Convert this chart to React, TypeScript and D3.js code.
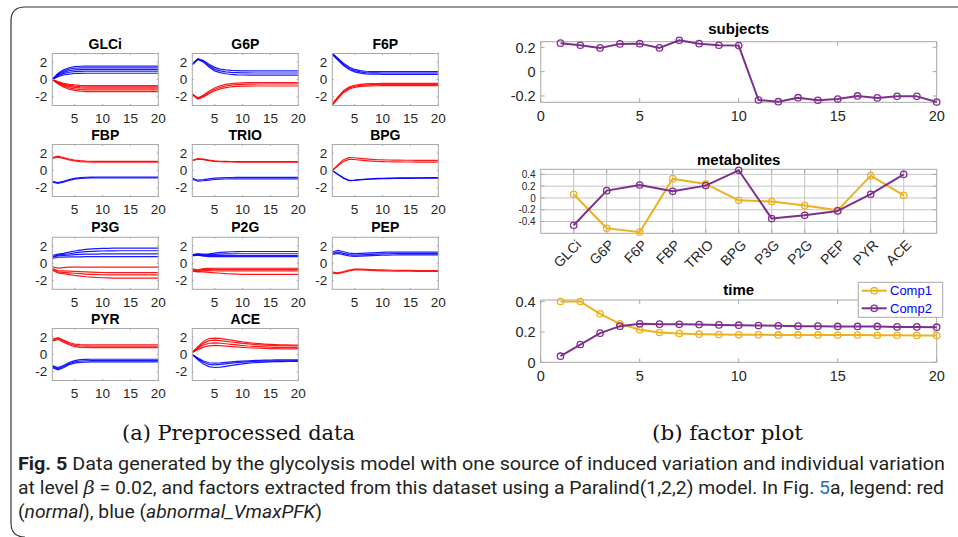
import React from 'react';
import * as d3 from 'd3';

// ---------- data ----------
const timePoints = [1,2,3,4,5,6,7,8,9,10,11,12,13,14,15,16,17,18,19,20];
const smallXTicks = [5,10,15,20];
const smallYTicks = [-2,0,2];

const glciBlue = [
  [0,.70,1.12,1.36,1.49,1.53,1.55,1.55,1.55,1.55,1.55,1.55,1.55,1.55,1.55,1.55,1.55,1.55,1.55,1.55],
  [0,.61,.97,1.19,1.30,1.34,1.35,1.35,1.35,1.35,1.35,1.35,1.35,1.35,1.35,1.35,1.35,1.35,1.35,1.35],
  [0,.52,.83,1.01,1.10,1.14,1.15,1.15,1.15,1.15,1.15,1.15,1.15,1.15,1.15,1.15,1.15,1.15,1.15,1.15],
  [0,.43,.68,.84,.91,.94,.95,.95,.95,.95,.95,.95,.95,.95,.95,.95,.95,.95,.95,.95],
  [0,.32,.52,.63,.69,.71,.72,.72,.72,.72,.72,.72,.72,.72,.72,.72,.72,.72,.72,.72],
];
const glciRed = [
  [0,-.25,-.43,-.56,-.63,-.67,-.69,-.70,-.70,-.70,-.70,-.70,-.70,-.70,-.70,-.70,-.70,-.70,-.70,-.70],
  [0,-.30,-.53,-.68,-.77,-.82,-.84,-.85,-.85,-.85,-.85,-.85,-.85,-.85,-.85,-.85,-.85,-.85,-.85,-.85],
  [0,-.35,-.62,-.80,-.90,-.96,-.99,-1.0,-1.0,-1.0,-1.0,-1.0,-1.0,-1.0,-1.0,-1.0,-1.0,-1.0,-1.0,-1.0],
  [0,-.42,-.74,-.96,-1.08,-1.15,-1.19,-1.2,-1.2,-1.2,-1.2,-1.2,-1.2,-1.2,-1.2,-1.2,-1.2,-1.2,-1.2,-1.2],
  [0,-.49,-.87,-1.12,-1.26,-1.34,-1.39,-1.4,-1.4,-1.4,-1.4,-1.4,-1.4,-1.4,-1.4,-1.4,-1.4,-1.4,-1.4,-1.4],
];
const g6pBlue = [
  [1.8,2.4,2.2,1.75,1.4,1.2,1.1,1.05,1.02,1.0,1.0,1.0,1.0,1.0,1.0,1.0,1.0,1.0,1.0,1.0],
  [1.75,2.35,2.1,1.6,1.2,1.0,.88,.82,.79,.77,.76,.75,.75,.75,.75,.75,.75,.75,.75,.75],
  [1.7,2.3,2.0,1.45,1.0,.8,.66,.58,.54,.52,.51,.5,.5,.5,.5,.5,.5,.5,.5,.5],
];
const g6pRed = [
  [-1.65,-2.15,-1.8,-1.35,-.98,-.72,-.57,-.47,-.42,-.38,-.36,-.35,-.35,-.35,-.35,-.35,-.35,-.35,-.35,-.35],
  [-1.7,-2.2,-1.9,-1.5,-1.15,-.9,-.75,-.65,-.6,-.56,-.54,-.53,-.52,-.52,-.52,-.52,-.52,-.52,-.52,-.52],
  [-1.75,-2.25,-2.0,-1.65,-1.3,-1.08,-.93,-.84,-.79,-.77,-.76,-.75,-.75,-.75,-.75,-.75,-.75,-.75,-.75,-.75],
];
const f6pBlue = [
  [3.0,2.45,1.88,1.44,1.16,1.02,.95,.92,.91,.9,.9,.9,.9,.9,.9,.9,.9,.9,.9,.9],
  [2.95,2.35,1.75,1.3,1.02,.88,.8,.77,.76,.75,.75,.75,.75,.75,.75,.75,.75,.75,.75,.75],
  [2.9,2.25,1.62,1.16,.88,.74,.66,.62,.61,.6,.6,.6,.6,.6,.6,.6,.6,.6,.6,.6],
];
const f6pRed = [
  [-2.85,-2.0,-1.28,-.88,-.66,-.56,-.5,-.47,-.46,-.45,-.45,-.45,-.45,-.45,-.45,-.45,-.45,-.45,-.45,-.45],
  [-2.9,-2.1,-1.4,-1.0,-.78,-.68,-.63,-.6,-.59,-.58,-.58,-.58,-.58,-.58,-.58,-.58,-.58,-.58,-.58,-.58],
  [-2.95,-2.2,-1.52,-1.12,-.9,-.8,-.76,-.73,-.72,-.71,-.71,-.71,-.71,-.71,-.71,-.71,-.71,-.71,-.71,-.71],
];
const fbpRed = [
  [1.5,1.65,1.5,1.33,1.2,1.13,1.09,1.07,1.06,1.05,1.05,1.05,1.05,1.05,1.05,1.05,1.05,1.05,1.05,1.05],
  [1.4,1.55,1.4,1.23,1.1,1.03,.99,.97,.96,.95,.95,.95,.95,.95,.95,.95,.95,.95,.95,.95],
];
const fbpBlue = [
  [-1.25,-1.4,-1.25,-1.05,-.9,-.82,-.78,-.76,-.75,-.75,-.75,-.75,-.75,-.75,-.75,-.75,-.75,-.75,-.75,-.75],
  [-1.35,-1.5,-1.35,-1.15,-1.0,-.92,-.88,-.86,-.85,-.85,-.85,-.85,-.85,-.85,-.85,-.85,-.85,-.85,-.85,-.85],
];
const trioRed = [
  [1.18,1.38,1.31,1.2,1.11,1.07,1.05,1.04,1.03,1.03,1.03,1.03,1.03,1.03,1.03,1.03,1.03,1.03,1.03,1.03],
  [1.12,1.32,1.25,1.14,1.05,1.01,.99,.98,.97,.97,.97,.97,.97,.97,.97,.97,.97,.97,.97,.97],
];
const trioBlue = [
  [-.9,-1.12,-1.05,-.96,-.88,-.84,-.82,-.81,-.8,-.8,-.8,-.8,-.8,-.8,-.8,-.8,-.8,-.8,-.8,-.8],
  [-1.0,-1.24,-1.18,-1.1,-1.04,-1.0,-.98,-.97,-.96,-.96,-.96,-.96,-.96,-.96,-.96,-.96,-.96,-.96,-.96,-.96],
];
const bpgRed = [
  [0,.65,1.25,1.48,1.47,1.4,1.34,1.29,1.25,1.23,1.21,1.2,1.19,1.18,1.18,1.17,1.17,1.17,1.16,1.16],
  [0,.55,1.05,1.28,1.27,1.2,1.14,1.09,1.05,1.03,1.01,1.0,.99,.98,.98,.97,.97,.97,.96,.96],
];
const bpgBlue = [
  [0,-.45,-.9,-1.18,-1.15,-1.09,-1.04,-1.0,-.97,-.95,-.93,-.92,-.91,-.9,-.9,-.89,-.89,-.88,-.88,-.88],
  [0,-.42,-.85,-1.13,-1.1,-1.04,-.99,-.95,-.92,-.9,-.88,-.87,-.86,-.85,-.85,-.84,-.84,-.83,-.83,-.83],
];
const p3gBlue = [
  [.9,1.05,1.15,1.28,1.42,1.52,1.6,1.66,1.7,1.72,1.73,1.74,1.74,1.74,1.74,1.74,1.74,1.74,1.74,1.74],
  [.75,.95,1.02,1.1,1.2,1.28,1.34,1.38,1.4,1.42,1.43,1.44,1.45,1.45,1.45,1.45,1.45,1.45,1.45,1.45],
  [.7,.85,.9,.95,1.0,1.03,1.05,1.06,1.07,1.08,1.08,1.08,1.08,1.08,1.08,1.08,1.08,1.08,1.08,1.08],
  [.55,.7,.72,.73,.74,.75,.76,.77,.78,.78,.78,.78,.78,.78,.78,.78,.78,.78,.78,.78],
];
const p3gRed = [
  [-.4,-.55,-.5,-.45,-.44,-.43,-.43,-.43,-.43,-.43,-.43,-.43,-.43,-.43,-.43,-.43,-.43,-.43,-.43,-.43],
  [-.6,-.85,-.88,-.9,-.93,-.96,-.99,-1.02,-1.04,-1.06,-1.07,-1.08,-1.08,-1.08,-1.08,-1.08,-1.08,-1.08,-1.08,-1.08],
  [-.7,-1.0,-1.05,-1.1,-1.15,-1.2,-1.24,-1.27,-1.3,-1.32,-1.33,-1.34,-1.34,-1.34,-1.34,-1.34,-1.34,-1.34,-1.34,-1.34],
  [-.8,-1.1,-1.2,-1.3,-1.4,-1.48,-1.55,-1.6,-1.64,-1.67,-1.69,-1.7,-1.7,-1.7,-1.7,-1.7,-1.7,-1.7,-1.7,-1.7],
];
const p2gBlue = [
  [1.0,1.1,1.05,1.1,1.18,1.25,1.3,1.33,1.35,1.36,1.36,1.36,1.36,1.36,1.36,1.36,1.36,1.36,1.36,1.36],
  [.95,1.05,.98,1.0,1.03,1.06,1.08,1.09,1.1,1.1,1.1,1.1,1.1,1.1,1.1,1.1,1.1,1.1,1.1,1.1],
  [.9,1.0,.9,.88,.88,.89,.9,.9,.9,.9,.9,.9,.9,.9,.9,.9,.9,.9,.9,.9],
  [.85,.95,.82,.78,.77,.77,.77,.77,.77,.77,.77,.77,.77,.77,.77,.77,.77,.77,.77,.77],
];
const p2gRed = [
  [-.65,-.75,-.62,-.58,-.57,-.57,-.57,-.57,-.57,-.57,-.57,-.57,-.57,-.57,-.57,-.57,-.57,-.57,-.57,-.57],
  [-.75,-.85,-.72,-.7,-.7,-.7,-.7,-.7,-.7,-.7,-.7,-.7,-.7,-.7,-.7,-.7,-.7,-.7,-.7,-.7],
  [-.85,-.95,-.85,-.85,-.86,-.87,-.88,-.88,-.88,-.88,-.88,-.88,-.88,-.88,-.88,-.88,-.88,-.88,-.88,-.88],
  [-.9,-1.0,-1.0,-1.05,-1.1,-1.15,-1.2,-1.23,-1.25,-1.27,-1.28,-1.28,-1.28,-1.28,-1.28,-1.28,-1.28,-1.28,-1.28,-1.28],
];
const pepBlue = [
  [1.3,1.48,1.33,1.18,1.12,1.15,1.18,1.21,1.24,1.26,1.28,1.29,1.3,1.3,1.3,1.3,1.3,1.3,1.3,1.3],
  [1.15,1.3,1.15,1.0,.95,.97,1.0,1.03,1.06,1.08,1.1,1.11,1.12,1.12,1.12,1.12,1.12,1.12,1.12,1.12],
  [1.02,1.15,1.0,.85,.8,.82,.85,.88,.91,.93,.95,.96,.97,.97,.97,.97,.97,.97,.97,.97],
];
const pepRed = [
  [-1.02,-1.1,-.95,-.77,-.67,-.67,-.7,-.73,-.75,-.77,-.79,-.8,-.81,-.82,-.82,-.83,-.83,-.83,-.84,-.84],
  [-1.14,-1.2,-1.05,-.87,-.77,-.77,-.8,-.83,-.85,-.87,-.89,-.9,-.91,-.92,-.92,-.93,-.93,-.93,-.94,-.94],
];
const pyrRed = [
  [1.75,1.95,1.68,1.38,1.2,1.13,1.11,1.1,1.1,1.1,1.1,1.1,1.1,1.1,1.1,1.1,1.1,1.1,1.1,1.1],
  [1.65,1.85,1.55,1.25,1.05,.98,.96,.95,.95,.95,.95,.95,.95,.95,.95,.95,.95,.95,.95,.95],
  [1.55,1.75,1.43,1.12,.9,.83,.81,.8,.8,.8,.8,.8,.8,.8,.8,.8,.8,.8,.8,.8],
];
const pyrBlue = [
  [-1.28,-1.52,-1.27,-.92,-.7,-.6,-.57,-.55,-.55,-.55,-.55,-.55,-.55,-.55,-.55,-.55,-.55,-.55,-.55,-.55],
  [-1.4,-1.65,-1.4,-1.05,-.85,-.75,-.72,-.7,-.7,-.7,-.7,-.7,-.7,-.7,-.7,-.7,-.7,-.7,-.7,-.7],
  [-1.52,-1.78,-1.53,-1.18,-1.0,-.9,-.87,-.85,-.85,-.85,-.85,-.85,-.85,-.85,-.85,-.85,-.85,-.85,-.85,-.85],
];
const aceRed = [
  [.25,.9,1.5,1.85,1.9,1.85,1.75,1.65,1.55,1.45,1.38,1.3,1.25,1.2,1.16,1.13,1.11,1.1,1.09,1.08],
  [.25,.8,1.3,1.6,1.65,1.6,1.52,1.44,1.36,1.28,1.22,1.16,1.12,1.08,1.05,1.03,1.01,1.0,.99,.98],
  [.25,.7,1.1,1.3,1.35,1.3,1.24,1.17,1.1,1.04,.98,.94,.9,.87,.85,.83,.82,.81,.8,.8],
  [.25,.55,.85,1.0,1.05,1.02,.97,.92,.87,.82,.78,.75,.72,.7,.68,.67,.66,.65,.65,.64],
];
const aceBlue = [
  [0,-.5,-.9,-1.15,-1.2,-1.15,-1.08,-1.0,-.93,-.88,-.84,-.8,-.78,-.76,-.75,-.74,-.73,-.72,-.72,-.71],
  [0,-.6,-1.1,-1.4,-1.5,-1.45,-1.36,-1.26,-1.16,-1.08,-1.0,-.95,-.9,-.87,-.85,-.83,-.82,-.81,-.8,-.8],
  [0,-.4,-.75,-.95,-1.0,-.97,-.92,-.86,-.8,-.76,-.72,-.69,-.67,-.65,-.64,-.63,-.62,-.62,-.61,-.61],
];

const panelNames = ['GLCi','G6P','F6P','FBP','TRIO','BPG','P3G','P2G','PEP','PYR','ACE'];
const panelRed = [glciRed,g6pRed,f6pRed,fbpRed,trioRed,bpgRed,p3gRed,p2gRed,pepRed,pyrRed,aceRed];
const panelBlue = [glciBlue,g6pBlue,f6pBlue,fbpBlue,trioBlue,bpgBlue,p3gBlue,p2gBlue,pepBlue,pyrBlue,aceBlue];

const subjectIds = [1,2,3,4,5,6,7,8,9,10,11,12,13,14,15,16,17,18,19,20];
const subjectsComp = [0.234,0.217,0.195,0.228,0.23,0.195,0.258,0.23,0.217,0.214,-0.233,-0.247,-0.214,-0.235,-0.225,-0.2,-0.216,-0.203,-0.203,-0.25];
const subjectXTicks = [0,5,10,15,20];
const subjectYTicks = [-0.2,0,0.2];

const metabolites = ['GLCi','G6P','F6P','FBP','TRIO','BPG','P3G','P2G','PEP','PYR','ACE'];
const metaComp1 = [0.063,-0.514,-0.58,0.327,0.237,-0.04,-0.06,-0.13,-0.21,0.378,0.045];
const metaComp2 = [-0.463,0.124,0.22,0.113,0.209,0.469,-0.35,-0.294,-0.22,0.063,0.4];
const metaYTicks = [-0.4,-0.2,0,0.2,0.4];

const timeComp1 = [0.4,0.4,0.319,0.253,0.214,0.196,0.189,0.185,0.183,0.181,0.181,0.18,0.18,0.18,0.179,0.179,0.178,0.178,0.177,0.176];
const timeComp2 = [0.04,0.117,0.192,0.238,0.253,0.251,0.25,0.248,0.246,0.244,0.242,0.24,0.238,0.238,0.236,0.236,0.236,0.233,0.233,0.231];
const timeYTicks = [0,0.2,0.4];
const legendLabels = ['Comp1','Comp2'];

// ---------- styles ----------
const SANS = "'Liberation Sans', Arial, Helvetica, sans-serif";
const TICKC = '#262626';
const BOXC = '#a8a8a8';
const RED = '#ff0000';
const BLUE = '#0000ff';
const C1 = '#EDB120';
const C2 = '#7E2F8E';
const fmt = (v: number) => (v === 0 ? '0' : String(v));

function SmallPanel({ idx }: { idx: number }) {
  const col = idx % 3, row = Math.floor(idx / 3);
  const left = 52.3 + col * 140;
  const top = [53.5, 144.5, 237.3, 328.5][row];
  const w = 106, h = 52;
  const x = d3.scaleLinear().domain([1, 20]).range([left, left + w]);
  const y = d3.scaleLinear().domain([-3, 3]).range([top + h, top]);
  const line = d3.line<number>().x((_, i) => x(timePoints[i])).y((d) => y(d));
  const id = 'clip' + idx;
  return (
    <g>
      <text x={left + w / 2} y={top - 5} textAnchor="middle" fontWeight="bold" fontSize={14} fontFamily={SANS} fill="#000">{panelNames[idx]}</text>
      <clipPath id={id}><rect x={left} y={top} width={w} height={h} /></clipPath>
      <g clipPath={`url(#${id})`}>
        {panelBlue[idx].map((s, i) => <path key={'b' + i} d={line(s) || ''} fill="none" stroke={BLUE} strokeWidth={1.2} strokeOpacity={0.9} />)}
        {panelRed[idx].map((s, i) => <path key={'r' + i} d={line(s) || ''} fill="none" stroke={RED} strokeWidth={1.2} strokeOpacity={0.9} />)}
      </g>
      <rect x={left} y={top} width={w} height={h} fill="none" stroke={BOXC} strokeWidth={1} />
      {smallXTicks.map((t) => (
        <g key={'x' + t}>
          <line x1={x(t)} x2={x(t)} y1={top + h} y2={top + h - 1.5} stroke={BOXC} />
          <line x1={x(t)} x2={x(t)} y1={top} y2={top + 1.5} stroke={BOXC} />
          <text x={x(t)} y={top + h + 17.5} textAnchor="middle" fontSize={13.5} fontFamily={SANS} fill={TICKC}>{t}</text>
        </g>
      ))}
      {smallYTicks.map((t) => (
        <g key={'y' + t}>
          <line x1={left} x2={left + 1.5} y1={y(t)} y2={y(t)} stroke={BOXC} />
          <line x1={left + w} x2={left + w - 1.5} y1={y(t)} y2={y(t)} stroke={BOXC} />
          <text x={left - 5} y={y(t) + 4.6} textAnchor="end" fontSize={13.5} fontFamily={SANS} fill={TICKC}>{t}</text>
        </g>
      ))}
    </g>
  );
}

const RL = 540.7, RR = 936.7;

function Series({ xs, ys, x, y, color }: any) {
  const line = d3.line<number>().x((_, i) => x(xs[i])).y((d) => y(d));
  return (
    <g>
      <path d={line(ys) || ''} fill="none" stroke={color} strokeWidth={2} strokeLinejoin="round" />
      {ys.map((v: number, i: number) => (
        <circle key={i} cx={x(xs[i])} cy={y(v)} r={3.2} fill="none" stroke={color} strokeWidth={1.3} />
      ))}
    </g>
  );
}

function AxisFrame({ x, y, top, bottom, xTicks, yTicks, xLabels, grid, rotate, yFont }: any) {
  const yf = yFont || 14.5;
  return (
    <g>
      {grid && xTicks.map((t: number) => <line key={'gx' + t} x1={x(t)} x2={x(t)} y1={top} y2={bottom} stroke="#c4c4c4" strokeWidth={1} />)}
      {grid && yTicks.map((t: number) => <line key={'gy' + t} x1={RL} x2={RR} y1={y(t)} y2={y(t)} stroke="#c4c4c4" strokeWidth={1} />)}
      <rect x={RL} y={top} width={RR - RL} height={bottom - top} fill="none" stroke={BOXC} strokeWidth={1} />
      {xTicks.map((t: number, i: number) => (
        <g key={'x' + t}>
          <line x1={x(t)} x2={x(t)} y1={bottom} y2={bottom - 4} stroke={BOXC} />
          <line x1={x(t)} x2={x(t)} y1={top} y2={top + 4} stroke={BOXC} />
          {rotate ? (
            <text transform={`translate(${x(t) + 5},${bottom + 9}) rotate(-45)`} dy="0.35em" textAnchor="end" fontSize={14} fontFamily={SANS} fill={TICKC}>{xLabels[i]}</text>
          ) : (
            <text x={x(t)} y={bottom + 18.5} textAnchor="middle" fontSize={14.5} fontFamily={SANS} fill={TICKC}>{xLabels[i]}</text>
          )}
        </g>
      ))}
      {yTicks.map((t: number) => (
        <g key={'y' + t}>
          <line x1={RL} x2={RL + 4} y1={y(t)} y2={y(t)} stroke={BOXC} />
          <line x1={RR} x2={RR - 4} y1={y(t)} y2={y(t)} stroke={BOXC} />
          <text x={RL - 5} y={y(t) + yf * 0.36} textAnchor="end" fontSize={yf} fontFamily={SANS} fill={TICKC}>{fmt(t)}</text>
        </g>
      ))}
    </g>
  );
}

function FactorPlots() {
  const sx = d3.scaleLinear().domain([0, 20]).range([RL, RR]);
  const sy = d3.scaleLinear().domain([-0.252, 0.246]).range([102.3, 41.7]);
  const mx = d3.scaleLinear().domain([0, 12]).range([RL, RR]);
  const my = d3.scaleLinear().domain([-0.6, 0.486]).range([233.3, 169.3]);
  const metaIdx = metabolites.map((_, i) => i + 1);
  const tx = d3.scaleLinear().domain([0, 20]).range([RL, RR]);
  const ty = d3.scaleLinear().domain([0, 0.41]).range([362.3, 300]);
  return (
    <g>
      <text x={(RL + RR) / 2} y={33.5} textAnchor="middle" fontWeight="bold" fontSize={15} fontFamily={SANS}>subjects</text>
      <AxisFrame x={sx} y={sy} top={41.7} bottom={102.3} xTicks={subjectXTicks} yTicks={subjectYTicks} xLabels={subjectXTicks.map(String)} />
      <Series xs={subjectIds} ys={subjectsComp} x={sx} y={sy} color={C2} />

      <text x={(RL + RR) / 2} y={165} textAnchor="middle" fontWeight="bold" fontSize={15} fontFamily={SANS}>metabolites</text>
      <AxisFrame x={mx} y={my} top={169.3} bottom={233.3} xTicks={metaIdx} yTicks={metaYTicks} xLabels={metabolites} grid rotate yFont={10} />
      <Series xs={metaIdx} ys={metaComp1} x={mx} y={my} color={C1} />
      <Series xs={metaIdx} ys={metaComp2} x={mx} y={my} color={C2} />

      <text x={(RL + RR) / 2} y={294.5} textAnchor="middle" fontWeight="bold" fontSize={15} fontFamily={SANS}>time</text>
      <AxisFrame x={tx} y={ty} top={300} bottom={362.3} xTicks={subjectXTicks} yTicks={timeYTicks} xLabels={subjectXTicks.map(String)} />
      <Series xs={timePoints} ys={timeComp1} x={tx} y={ty} color={C1} />
      <Series xs={timePoints} ys={timeComp2} x={tx} y={ty} color={C2} />

      <rect x={858.3} y={282.3} width={84.4} height={35} fill="#fff" stroke={BOXC} strokeWidth={1} />
      {legendLabels.map((lab, i) => {
        const ly = 290.7 + i * 17.6;
        const col = i === 0 ? C1 : C2;
        return (
          <g key={lab}>
            <line x1={861.7} x2={886.7} y1={ly} y2={ly} stroke={col} strokeWidth={2} />
            <circle cx={874.2} cy={ly} r={3.2} fill="none" stroke={col} strokeWidth={1.3} />
            <text x={890} y={ly + 4.6} fontSize={13} fontFamily={SANS} fill={BLUE}>{lab}</text>
          </g>
        );
      })}
    </g>
  );
}

export default function App() {
  const capFont = "Roboto, 'Noto Sans', sans-serif";
  const capColor = '#231f20';
  return (
    <svg width={958} height={537} style={{ position: 'absolute', left: 0, top: 0, background: '#fff' }}>
      <rect x={0} y={0} width={958} height={537} fill="#fff" />
      <path d="M 958 7 H 25 Q 11 7 11 21 V 523 Q 11 537 25 537" fill="none" stroke="#333" strokeWidth={1.2} />
      {panelNames.map((_, i) => <SmallPanel key={i} idx={i} />)}
      <FactorPlots />
      <text x={238.5} y={440} textAnchor="middle" fontSize={21} fontFamily="'DejaVu Serif', 'Liberation Serif', serif" fill="#111" textLength={233} lengthAdjust="spacingAndGlyphs">(a) Preprocessed data</text>
      <text x={727.5} y={440} textAnchor="middle" fontSize={21} fontFamily="'DejaVu Serif', 'Liberation Serif', serif" fill="#111" textLength={151} lengthAdjust="spacingAndGlyphs">(b) factor plot</text>
      <text x={18} y={470} fontSize={18} fontFamily={capFont} fill={capColor} textLength={927} lengthAdjust="spacingAndGlyphs">
        <tspan fontWeight="bold">Fig. 5</tspan>
        <tspan>{'  Data generated by the glycolysis model with one source of induced variation and individual variation'}</tspan>
      </text>
      <text x={18} y={494} fontSize={18} fontFamily={capFont} fill={capColor} textLength={926} lengthAdjust="spacingAndGlyphs">
        <tspan>{'at level '}</tspan>
        <tspan fontStyle="italic" fontFamily="'DejaVu Serif', serif">β</tspan>
        <tspan>{' = 0.02, and factors extracted from this dataset using a Paralind(1,2,2) model. In Fig. '}</tspan>
        <tspan fill="#2a6ebb">5</tspan>
        <tspan>{'a, legend: red'}</tspan>
      </text>
      <text x={18} y={518} fontSize={18} fontFamily={capFont} fill={capColor} textLength={304} lengthAdjust="spacingAndGlyphs">
        <tspan>(</tspan>
        <tspan fontStyle="italic">normal</tspan>
        <tspan>), blue (</tspan>
        <tspan fontStyle="italic">abnormal_VmaxPFK</tspan>
        <tspan>)</tspan>
      </text>
    </svg>
  );
}
